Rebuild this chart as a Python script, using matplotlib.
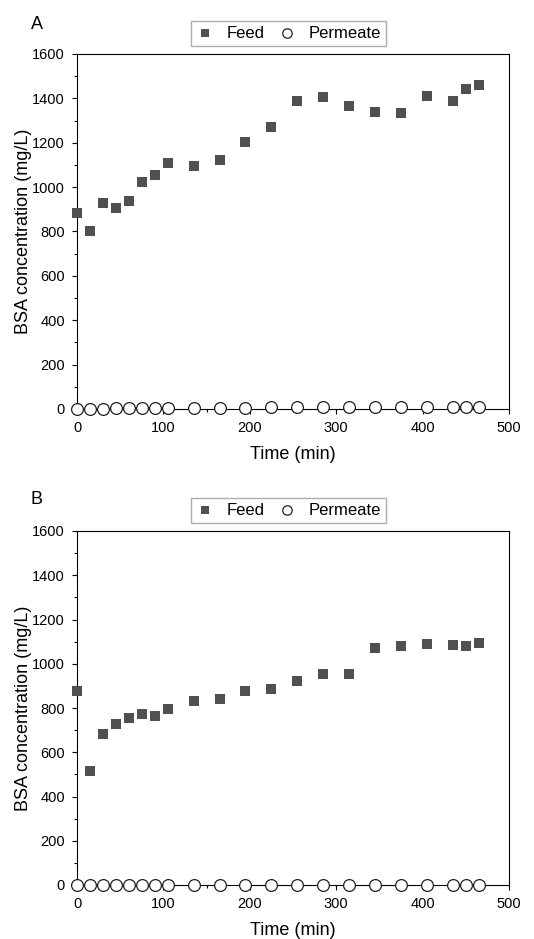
import matplotlib
matplotlib.use("Agg")
import matplotlib.pyplot as plt
from matplotlib.ticker import MultipleLocator

plt.rcParams["font.family"] = ["Liberation Sans", "DejaVu Sans"]

time_min = [0, 15, 30, 45, 60, 75, 90, 105, 135, 165, 195, 225, 255, 285, 315,
            345, 375, 405, 435, 450, 465]

feed_a = [885, 800, 929, 905, 938, 1024, 1054, 1108, 1093, 1124, 1204, 1270,
          1386, 1404, 1365, 1339, 1333, 1410, 1387, 1444, 1461]
perm_a = [0, 0, 0, 3, 4, 4, 5, 5, 6, 6, 6, 7, 7, 7, 8, 8, 8, 9, 9, 10, 10]

feed_b = [879, 515, 682, 727, 757, 771, 765, 794, 833, 840, 876, 885, 923,
          953, 955, 1072, 1081, 1089, 1086, 1081, 1093]
perm_b = [0] * 21

panels = [("A", feed_a, perm_a), ("B", feed_b, perm_b)]

fig = plt.figure(figsize=(5.34, 9.39), dpi=100)
# axes boxes in figure fractions (left, bottom, width, height)
boxes = [(77/534, 1 - 409/939, 432/534, 355/939),
         (77/534, 1 - 885/939, 432/534, 354/939)]
tag_pos = [(31/534, 1 - 16/939), (31/534, 1 - 491/939)]

for (tag, feed, perm), box, tp in zip(panels, boxes, tag_pos):
    ax = fig.add_axes(box)
    ax.scatter(time_min, feed, marker="s", s=62, c="#505050", lw=0,
               label="Feed", zorder=3, clip_on=False)
    ax.scatter(time_min, perm, marker="o", s=72, facecolors="white",
               edgecolors="#202020", lw=0.9, label="Permeate", zorder=4,
               clip_on=False)
    ax.set_xlim(0, 500)
    ax.set_ylim(0, 1600)
    ax.xaxis.set_major_locator(MultipleLocator(100))
    ax.xaxis.set_minor_locator(MultipleLocator(50))
    ax.yaxis.set_major_locator(MultipleLocator(200))
    ax.yaxis.set_minor_locator(MultipleLocator(100))
    ax.tick_params(which="both", direction="out", top=False, right=False,
                   labelsize=10.5, pad=5)
    ax.tick_params(which="major", length=3.6, width=0.8)
    ax.tick_params(which="minor", length=2, width=0.8)
    for sp in ax.spines.values():
        sp.set_linewidth(0.8)
    ax.set_xlabel("Time (min)", fontsize=13, labelpad=8)
    ax.set_ylabel("BSA concentration (mg/L)", fontsize=13, labelpad=0)
    ax.legend(loc="lower center", bbox_to_anchor=(0.49, 1.0), ncol=2,
              fontsize=12, frameon=True, fancybox=False, edgecolor="#999999",
              handlelength=1.0, handletextpad=0.8, columnspacing=0.85,
              borderpad=0.3, borderaxespad=0.5, markerscale=0.8)
    fig.text(tp[0], tp[1], tag, fontsize=13, ha="left", va="top")

fig.savefig("out.png", dpi=100)
